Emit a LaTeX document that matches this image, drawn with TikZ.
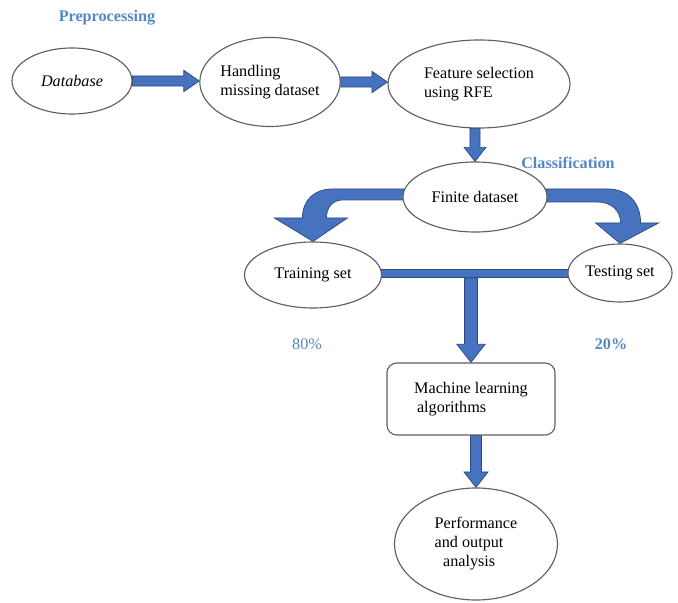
\documentclass[tikz,border=0pt]{standalone}
\usepackage{fontspec}
\setmainfont{Liberation Serif}
\usepackage{xcolor}
\usepackage{tikz}
\usetikzlibrary{calc}
\usetikzlibrary{shapes,arrows,positioning,calc}
\usetikzlibrary{backgrounds}
\usetikzlibrary{shapes.geometric}

\definecolor{arrowblue}{RGB}{70,114,192}
\definecolor{arrowedge}{RGB}{44,74,128}
\definecolor{labelblue}{RGB}{84,136,196}
\definecolor{edgegray}{RGB}{95,95,95}

\tikzset{
	stage/.style={ellipse,draw=edgegray,line width=0.8pt,fill=white,inner sep=0pt,align=left,font=\fontsize{11.5}{13.5}\selectfont},
	algobox/.style={rectangle,rounded corners=7pt,draw=edgegray,line width=0.8pt,fill=white,align=left,font=\fontsize{11.5}{13.5}\selectfont},
	phase/.style={text=labelblue,font=\fontsize{11.5}{13.5}\selectfont\bfseries},
	share/.style={text=labelblue,font=\fontsize{11.5}{13.5}\selectfont},
	blockarrow/.style={fill=arrowblue,draw=arrowedge,line width=0.5pt,line join=miter}
}

% block arrows: #1 size factor, #2 start, #3 end
\newcommand{\blockright}[3][1]{%
	\filldraw[blockarrow] let \p1=(#2), \p2=(#3) in
		(\x1,\y1+#1*3.6pt) -- (\x2-#1*11pt,\y1+#1*3.6pt) -- (\x2-#1*11pt,\y1+#1*7.6pt) -- (\x2,\y1)
		-- (\x2-#1*11pt,\y1-#1*7.6pt) -- (\x2-#1*11pt,\y1-#1*3.6pt) -- (\x1,\y1-#1*3.6pt) -- cycle;}
\newcommand{\blockdown}[3][1]{%
	\filldraw[blockarrow] let \p1=(#2), \p2=(#3) in
		(\x2-#1*3.6pt,\y1) -- (\x2-#1*3.6pt,\y2+#1*10pt) -- (\x2-#1*7.8pt,\y2+#1*10pt) -- (\x2,\y2)
		-- (\x2+#1*7.8pt,\y2+#1*10pt) -- (\x2+#1*3.6pt,\y2+#1*10pt) -- (\x2+#1*3.6pt,\y1) -- cycle;}

\begin{document}
\begin{tikzpicture}[x=0.025cm,y=-0.025cm]
	\useasboundingbox (0,0) rectangle (678,603);
		\node[phase] (preproc) at (107,18) {Preprocessing};
		\node[phase] (classif) at (568,163) {Classification};
		\node[stage,minimum width=3cm,minimum height=1.65cm] (db) at (72,81) {\textit{Database}};
		\node[stage,minimum width=3.5cm,minimum height=2.225cm] (handle) at (270,82) {Handling\\missing dataset};
		\node[stage,minimum width=4.55cm,minimum height=2.2cm] (rfe) at (479,84) {Feature selection\\using RFE};
		\node[stage,minimum width=3.6cm,minimum height=1.75cm] (finite) at (475,197) {Finite dataset};
		\node[stage,minimum width=3.425cm,minimum height=1.65cm] (train) at (313,275) {Training set};
		\node[stage,minimum width=2.6cm,minimum height=1.45cm] (test) at (620,273) {Testing set};
			\node[share] (ptrain) at (307,344) {80\%};
			\node[share,font=\fontsize{11.5}{13.5}\selectfont\bfseries] (ptest) at (611,344) {20\%};
		\node[algobox,minimum width=4.2cm,minimum height=1.8cm] (mla) at (471,399) {Machine learning\\\hspace{2pt}algorithms};
		\node[stage,minimum width=4.075cm,minimum height=2.8cm] (perf) at (476,544) {Performance\\and output\\\hspace{6pt}analysis};
	\coordinate (split) at ($(train.east)!0.5!(test.west)+(0,4)$);
	\begin{scope}[on background layer]
		\blockright{db.east}{handle.west}
		\blockright{handle.east}{rfe.west}
		\blockdown{rfe.south}{finite.north}
		\filldraw[blockarrow] ($(train.east)+(-4,-6)$) rectangle ($(test.west)+(4,4)$);
		\blockdown[1.3]{split}{mla.north}
		\blockdown[1.1]{mla.south}{perf.north}
		\begin{scope}[shift={(finite.west)}]
			\filldraw[blockarrow] (6,-8) -- (-70,-8) .. controls (-88,-8) and (-100,3) .. (-100,21)
				-- (-128,21) -- (train.north) -- (-55,21) -- (-76,21) .. controls (-76,11) and (-70,3) .. (-60,3)
				-- (6,3) -- cycle;
		\end{scope}
		\begin{scope}[shift={(finite.east)}]
			\filldraw[blockarrow] (-6,-8) -- (60,-8) .. controls (81,-8) and (93,6) .. (93,26)
				-- (111,26) -- (test.north) -- (48,26) -- (73,26) .. controls (73,13) and (63,5) .. (50,5)
				-- (-6,5) -- cycle;
		\end{scope}
	\end{scope}
\end{tikzpicture}
\end{document}
